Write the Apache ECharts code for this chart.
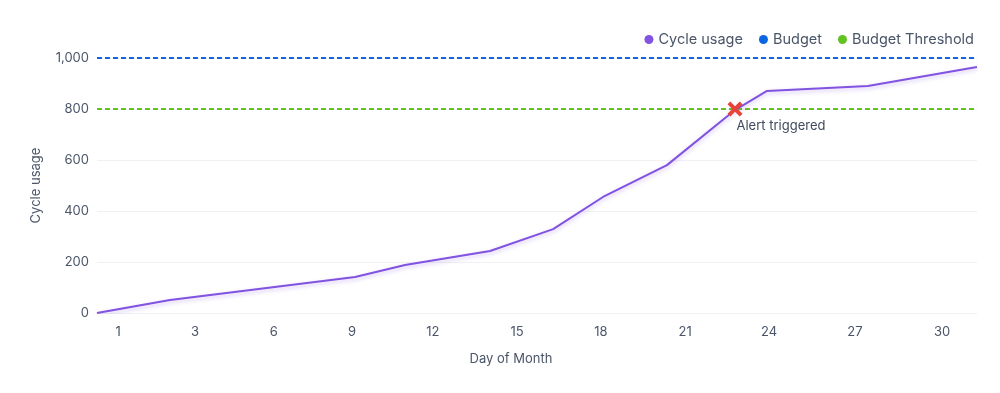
<!DOCTYPE html>
<html>
<head>
<meta charset="utf-8">
<script src="https://cdn.jsdelivr.net/npm/echarts@6/dist/echarts.min.js"></script>
<style>html,body{margin:0;padding:0;background:#fff}#c{width:1000px;height:393px}</style>
</head>
<body>
<div id="c"></div>
<script>
// x positions in "day offset" units along the axis (0..30)
const usageX = [0, 2.49, 8.8, 10.5, 13.4, 15.55, 17.25, 19.43, 21.75, 22.84, 26.28, 30];
const usageY = [0, 51, 141, 188, 243, 329, 455, 580, 796, 871, 890, 965];
const budgetValue = 1000;
const thresholdValue = 800;
const axisRange = [0, 30];
const alertPoint = [21.75, 800];
const tickValues = [0.72, 3.34, 6.03, 8.69, 11.45, 14.32, 17.18, 20.05, 22.91, 25.84, 28.81];
const tickLabels = ['1', '3', '6', '9', '12', '15', '18', '21', '24', '27', '30'];

const txt = '#4a5568';
const font = 'Inter';
const chart = echarts.init(document.getElementById('c'));
chart.setOption({
  animation: false,
  textStyle: { fontFamily: font },
  grid: { left: 97, right: 23, top: 58, bottom: 80 },
  legend: {
    data: ['Cycle usage', 'Budget', 'Budget Threshold'],
    right: 21, top: 27,
    icon: 'circle', itemWidth: 9, itemHeight: 9, itemGap: 16,
    textStyle: { color: txt, fontSize: 14.5, fontFamily: font }
  },
  xAxis: {
    type: 'value', min: axisRange[0], max: axisRange[1],
    name: 'Day of Month', nameLocation: 'middle', nameGap: 40,
    nameTextStyle: { color: txt, fontSize: 13, fontFamily: font, padding: [0, 52, 0, 0] },
    axisLine: { show: false }, axisTick: { show: false }, splitLine: { show: false },
    axisLabel: {
      customValues: tickValues, color: txt, fontSize: 13, fontFamily: font, margin: 13,
      formatter: function (v) {
        let best = 0;
        for (let i = 0; i < tickValues.length; i++) if (Math.abs(tickValues[i] - v) < Math.abs(tickValues[best] - v)) best = i;
        return tickLabels[best];
      }
    }
  },
  yAxis: {
    type: 'value', min: 0, max: 1000, interval: 200,
    name: 'Cycle usage', nameLocation: 'middle', nameGap: 54,
    nameTextStyle: { color: txt, fontSize: 13, fontFamily: font },
    axisLine: { show: false }, axisTick: { show: false },
    splitLine: { lineStyle: { color: '#f1f1f3', width: 1 } },
    axisLabel: { color: txt, fontSize: 13, fontFamily: font, margin: 8,
      formatter: v => v.toLocaleString('en-US') }
  },
  series: [
    {
      name: 'Cycle usage', type: 'line', showSymbol: false, symbol: 'none',
      data: usageX.map((x, i) => [x, usageY[i]]),
      itemStyle: { color: '#8153e0' },
      lineStyle: { color: '#8153e0', width: 2, shadowColor: 'rgba(129,83,224,0.35)', shadowBlur: 4, shadowOffsetY: 2 },
      z: 3
    },
    {
      name: 'Budget', type: 'line', symbol: 'none',
      data: [[axisRange[0], budgetValue], [axisRange[1], budgetValue]],
      itemStyle: { color: '#0b66e4' },
      lineStyle: { color: '#0b66e4', width: 2, type: [5, 3] }, z: 2
    },
    {
      name: 'Budget Threshold', type: 'line', symbol: 'none',
      data: [[axisRange[0], thresholdValue], [axisRange[1], thresholdValue]],
      itemStyle: { color: '#63c21f' },
      lineStyle: { color: '#63c21f', width: 2, type: [5, 3] }, z: 2
    },
    {
      name: 'Alert', type: 'scatter',
      symbol: 'path://M3,0 L8,5 L13,0 L16,3 L11,8 L16,13 L13,16 L8,11 L3,16 L0,13 L5,8 L0,3 Z',
      symbolSize: 15,
      data: [alertPoint],
      itemStyle: { color: '#e8433a', opacity: 1 },
      emphasis: { disabled: true },
      label: { show: true, formatter: 'Alert triggered', position: [9, 18], color: '#3f4a5c', fontSize: 13, fontFamily: font },
      z: 5
    }
  ]
});
</script>
</body>
</html>
